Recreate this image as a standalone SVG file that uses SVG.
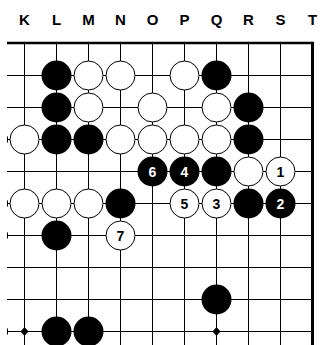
<svg xmlns="http://www.w3.org/2000/svg" width="320" height="345" viewBox="0 0 320 345">
<style>
.g{stroke:#000;stroke-width:1;fill:none}
.b{fill:#000}
.w{fill:#fff;stroke:#000;stroke-width:1}
.col{font-family:"Liberation Sans",Arial,sans-serif;font-weight:bold;font-size:15px;text-anchor:middle;fill:#000}
.nb{font-family:"Liberation Sans",Arial,sans-serif;font-weight:bold;font-size:14px;text-anchor:middle;fill:#fff}
.nw{font-family:"Liberation Sans",Arial,sans-serif;font-weight:bold;font-size:14px;text-anchor:middle;fill:#000}
</style>
<rect width="320" height="345" fill="#fff"/>
<g id="labels">
<text class="col" x="24.5" y="25">K</text>
<text class="col" x="56.5" y="25">L</text>
<text class="col" x="88.5" y="25">M</text>
<text class="col" x="120.5" y="25">N</text>
<text class="col" x="152.5" y="25">O</text>
<text class="col" x="184.5" y="25">P</text>
<text class="col" x="216.5" y="25">Q</text>
<text class="col" x="248.5" y="25">R</text>
<text class="col" x="280.5" y="25">S</text>
<text class="col" x="312.5" y="25">T</text>
</g>
<g id="connectors">
<path class="g" d="M24.5 43V345M56.5 43V345M88.5 43V345M120.5 43V345M152.5 43V345M184.5 43V345M216.5 43V345M248.5 43V345M280.5 43V345"/>
<path class="g" d="M7 75.5H312M7 107.5H312M7 139.5H312M7 171.5H312M7 203.5H312M7 235.5H312M7 267.5H312M7 299.5H312M7 331.5H312"/>
<path class="g" d="M7.5 136.5v6M7.5 200.5v6M7.5 232.5v6M7.5 328.5v6"/>
<line x1="7" y1="43" x2="314" y2="43" stroke="#000" stroke-width="2.5"/>
<line x1="312.5" y1="42" x2="312.5" y2="345" stroke="#000" stroke-width="3"/>
<path class="b" d="M24.5 327l4 4.5-4 4.5-4-4.5zM216.5 327l4 4.5-4 4.5-4-4.5z"/>
</g>
<g id="L1"><circle class="b" cx="56.5" cy="75.5" r="15"/></g>
<g id="M1"><circle class="w" cx="88.5" cy="75.5" r="14.5"/></g>
<g id="N1"><circle class="w" cx="120.5" cy="75.5" r="14.5"/></g>
<g id="P1"><circle class="w" cx="184.5" cy="75.5" r="14.5"/></g>
<g id="Q1"><circle class="b" cx="216.5" cy="75.5" r="15"/></g>
<g id="L2"><circle class="b" cx="56.5" cy="107.5" r="15"/></g>
<g id="M2"><circle class="w" cx="88.5" cy="107.5" r="14.5"/></g>
<g id="O2"><circle class="w" cx="152.5" cy="107.5" r="14.5"/></g>
<g id="Q2"><circle class="w" cx="216.5" cy="107.5" r="14.5"/></g>
<g id="R2"><circle class="b" cx="248.5" cy="107.5" r="15"/></g>
<g id="K3"><circle class="w" cx="24.5" cy="139.5" r="14.5"/></g>
<g id="L3"><circle class="b" cx="56.5" cy="139.5" r="15"/></g>
<g id="M3"><circle class="b" cx="88.5" cy="139.5" r="15"/></g>
<g id="N3"><circle class="w" cx="120.5" cy="139.5" r="14.5"/></g>
<g id="O3"><circle class="w" cx="152.5" cy="139.5" r="14.5"/></g>
<g id="P3"><circle class="w" cx="184.5" cy="139.5" r="14.5"/></g>
<g id="Q3"><circle class="w" cx="216.5" cy="139.5" r="14.5"/></g>
<g id="R3"><circle class="b" cx="248.5" cy="139.5" r="15"/></g>
<g id="O4"><circle class="b" cx="152.5" cy="171.5" r="15"/><text class="nb" x="152.5" y="176.5">6</text></g>
<g id="P4"><circle class="b" cx="184.5" cy="171.5" r="15"/><text class="nb" x="184.5" y="176.5">4</text></g>
<g id="Q4"><circle class="b" cx="216.5" cy="171.5" r="15"/></g>
<g id="R4"><circle class="w" cx="248.5" cy="171.5" r="14.5"/></g>
<g id="S4"><circle class="w" cx="280.5" cy="171.5" r="14.5"/><text class="nw" x="280.5" y="176.5">1</text></g>
<g id="K5"><circle class="w" cx="24.5" cy="203.5" r="14.5"/></g>
<g id="L5"><circle class="w" cx="56.5" cy="203.5" r="14.5"/></g>
<g id="M5"><circle class="w" cx="88.5" cy="203.5" r="14.5"/></g>
<g id="N5"><circle class="b" cx="120.5" cy="203.5" r="15"/></g>
<g id="P5"><circle class="w" cx="184.5" cy="203.5" r="14.5"/><text class="nw" x="184.5" y="208.5">5</text></g>
<g id="Q5"><circle class="w" cx="216.5" cy="203.5" r="14.5"/><text class="nw" x="216.5" y="208.5">3</text></g>
<g id="R5"><circle class="b" cx="248.5" cy="203.5" r="15"/></g>
<g id="S5"><circle class="b" cx="280.5" cy="203.5" r="15"/><text class="nb" x="280.5" y="208.5">2</text></g>
<g id="L6"><circle class="b" cx="56.5" cy="235.5" r="15"/></g>
<g id="N6"><circle class="w" cx="120.5" cy="235.5" r="14.5"/><text class="nw" x="120.5" y="240.5">7</text></g>
<g id="Q8"><circle class="b" cx="216.5" cy="299.5" r="15"/></g>
<g id="L9"><circle class="b" cx="56.5" cy="331.5" r="15"/></g>
<g id="M9"><circle class="b" cx="88.5" cy="331.5" r="15"/></g>
</svg>
